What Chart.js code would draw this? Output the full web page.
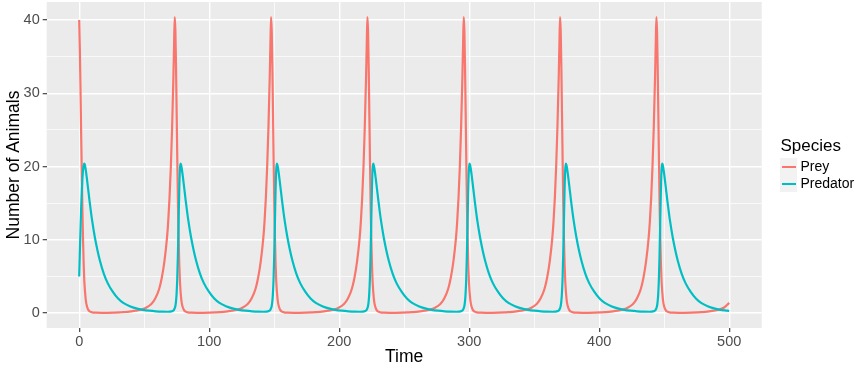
<!DOCTYPE html>
<html>
<head>
<meta charset="utf-8">
<script src="https://cdn.jsdelivr.net/npm/chart.js@4.4.0/dist/chart.umd.min.js"></script>
<style>
html,body{margin:0;padding:0;background:#ffffff;}
#wrap{position:relative;width:861px;height:372px;overflow:hidden;}
#c{position:absolute;left:0;top:0;}
.lg{position:absolute;font-family:"Liberation Sans",Arial,sans-serif;color:#000;white-space:nowrap;}
.key{position:absolute;width:17px;height:17px;background:#F2F2F2;}
.key i{position:absolute;left:1.5px;right:1.5px;top:7.5px;height:2.2px;display:block;}
</style>
</head>
<body>
<div id="wrap">
<canvas id="c" width="861" height="372"></canvas>
<div id="legendTitle" class="lg" style="left:780.5px;top:136px;font-size:17px;line-height:20px;"></div>
<div class="key" style="left:780px;top:158px;"><i id="k0"></i></div>
<div class="key" style="left:780px;top:175px;"><i id="k1"></i></div>
<div id="l0" class="lg" style="left:800.5px;top:158px;font-size:14px;line-height:17px;"></div>
<div id="l1" class="lg" style="left:800.5px;top:174.5px;font-size:14px;line-height:17px;"></div>
</div>
<script>
// ---------- data ----------
const seriesNames = ['Prey', 'Predator'];
const legendTitle = 'Species';
const xTitle = 'Time';
const yTitle = 'Number of Animals';
const xTickValues = [0, 100, 200, 300, 400, 500];
const xTickLabels = ['0', '100', '200', '300', '400', '500'];
const yTickValues = [0, 10, 20, 30, 40];
const yTickLabels = ['0', '10', '20', '30', '40'];

const preyTime = [
 0,0.5,1,1.5,2,2.5,3,3.5,4,5,6,7,8,10,13,17,22,27,31,
 33.5,38.5,43.5,47.5,51.5,55.5,58.5,61.5,63.5,65.5,67.5,68.5,69.5,70.5,71.5,72.5,73,73.5,74,74.5,75,75.5,76,76.5,77,77.5,78.5,79.5,80.5,81.5,83.5,86.5,90.5,95.5,100.5,104.5,
 107.6,112.6,117.6,121.6,125.6,129.6,132.6,135.6,137.6,139.6,141.6,142.6,143.6,144.6,145.6,146.6,147.1,147.6,148.1,148.6,149.1,149.6,150.1,150.6,151.1,151.6,152.6,153.6,154.6,155.6,157.6,160.6,164.6,169.6,174.6,178.6,
 181.7,186.7,191.7,195.7,199.7,203.7,206.7,209.7,211.7,213.7,215.7,216.7,217.7,218.7,219.7,220.7,221.2,221.7,222.2,222.7,223.2,223.7,224.2,224.7,225.2,225.7,226.7,227.7,228.7,229.7,231.7,234.7,238.7,243.7,248.7,252.7,
 255.8,260.8,265.8,269.8,273.8,277.8,280.8,283.8,285.8,287.8,289.8,290.8,291.8,292.8,293.8,294.8,295.3,295.8,296.3,296.8,297.3,297.8,298.3,298.8,299.3,299.8,300.8,301.8,302.8,303.8,305.8,308.8,312.8,317.8,322.8,326.8,
 329.9,334.9,339.9,343.9,347.9,351.9,354.9,357.9,359.9,361.9,363.9,364.9,365.9,366.9,367.9,368.9,369.4,369.9,370.4,370.9,371.4,371.9,372.4,372.9,373.4,373.9,374.9,375.9,376.9,377.9,379.9,382.9,386.9,391.9,396.9,400.9,
 404,409,414,418,422,426,429,432,434,436,438,439,440,441,442,443,443.5,444,444.5,445,445.5,446,446.5,447,447.5,448,449,450,451,452,454,457,461,466,471,475,
 478.1,483.1,488.1,492.1,496.1,500
];
const preyCount = [
 40.0,36.0,30.5,24.5,19,13.8,9.6,6.4,4.2,1.9,0.9,0.45,0.25,0.12,0.07,0.05,0.05,0.07,0.1,
 0.14,0.22,0.36,0.48,0.75,1.25,2.0,3.3,4.8,7.0,10.2,12.6,15.8,20.0,25.5,32.5,36.8,40.4,38.5,33.5,27,20.5,14.5,10,6.6,4.3,1.9,0.9,0.45,0.25,0.12,0.07,0.05,0.05,0.07,0.1,
 0.14,0.22,0.36,0.48,0.75,1.25,2.0,3.3,4.8,7.0,10.2,12.6,15.8,20.0,25.5,32.5,36.8,40.4,38.5,33.5,27,20.5,14.5,10,6.6,4.3,1.9,0.9,0.45,0.25,0.12,0.07,0.05,0.05,0.07,0.1,
 0.14,0.22,0.36,0.48,0.75,1.25,2.0,3.3,4.8,7.0,10.2,12.6,15.8,20.0,25.5,32.5,36.8,40.4,38.5,33.5,27,20.5,14.5,10,6.6,4.3,1.9,0.9,0.45,0.25,0.12,0.07,0.05,0.05,0.07,0.1,
 0.14,0.22,0.36,0.48,0.75,1.25,2.0,3.3,4.8,7.0,10.2,12.6,15.8,20.0,25.5,32.5,36.8,40.4,38.5,33.5,27,20.5,14.5,10,6.6,4.3,1.9,0.9,0.45,0.25,0.12,0.07,0.05,0.05,0.07,0.1,
 0.14,0.22,0.36,0.48,0.75,1.25,2.0,3.3,4.8,7.0,10.2,12.6,15.8,20.0,25.5,32.5,36.8,40.4,38.5,33.5,27,20.5,14.5,10,6.6,4.3,1.9,0.9,0.45,0.25,0.12,0.07,0.05,0.05,0.07,0.1,
 0.14,0.22,0.36,0.48,0.75,1.25,2.0,3.3,4.8,7.0,10.2,12.6,15.8,20.0,25.5,32.5,36.8,40.4,38.5,33.5,27,20.5,14.5,10,6.6,4.3,1.9,0.9,0.45,0.25,0.12,0.07,0.05,0.05,0.07,0.1,
 0.14,0.22,0.36,0.48,0.78,1.4
];

const predatorTime = [
 0,0.5,1,1.5,2,2.5,3,3.5,3.9,4.4,4.9,5.9,6.9,7.9,8.9,9.9,11.9,13.9,15.9,18.9,21.9,25.9,29.9,33.9,38.9,43.9,48.9,53.9,58.9,63.9,67.9,
 69.9,71.9,72.9,73.9,74.4,74.9,75.4,75.9,76.4,76.9,77.4,77.9,78.4,78.9,79.9,80.9,81.9,82.9,83.9,85.9,87.9,89.9,92.9,95.9,99.9,103.9,107.9,112.9,117.9,122.9,127.9,132.9,137.9,141.9,
 144,146,147,148,148.5,149,149.5,150,150.5,151,151.5,152,152.5,153,154,155,156,157,158,160,162,164,167,170,174,178,182,187,192,197,202,207,212,216,
 218.1,220.1,221.1,222.1,222.6,223.1,223.6,224.1,224.6,225.1,225.6,226.1,226.6,227.1,228.1,229.1,230.1,231.1,232.1,234.1,236.1,238.1,241.1,244.1,248.1,252.1,256.1,261.1,266.1,271.1,276.1,281.1,286.1,290.1,
 292.2,294.2,295.2,296.2,296.7,297.2,297.7,298.2,298.7,299.2,299.7,300.2,300.7,301.2,302.2,303.2,304.2,305.2,306.2,308.2,310.2,312.2,315.2,318.2,322.2,326.2,330.2,335.2,340.2,345.2,350.2,355.2,360.2,364.2,
 366.3,368.3,369.3,370.3,370.8,371.3,371.8,372.3,372.8,373.3,373.8,374.3,374.8,375.3,376.3,377.3,378.3,379.3,380.3,382.3,384.3,386.3,389.3,392.3,396.3,400.3,404.3,409.3,414.3,419.3,424.3,429.3,434.3,438.3,
 440.4,442.4,443.4,444.4,444.9,445.4,445.9,446.4,446.9,447.4,447.9,448.4,448.9,449.4,450.4,451.4,452.4,453.4,454.4,456.4,458.4,460.4,463.4,466.4,470.4,474.4,478.4,483.4,488.4,493.4,498.4,500
];
const predatorCount = [
 5.0,8.3,11.5,14.3,16.6,18.4,19.6,20.2,20.4,20.2,19.7,18.4,16.9,15.4,14.0,12.7,10.5,8.7,7.2,5.4,4.1,2.9,2.0,1.4,0.95,0.65,0.46,0.34,0.26,0.21,0.2,
 0.21,0.3,0.45,0.9,1.5,2.6,4.6,7.8,12,16.3,19.4,20.4,20.2,19.7,18.4,16.9,15.4,14.0,12.7,10.5,8.7,7.2,5.4,4.1,2.9,2.0,1.4,0.95,0.65,0.46,0.34,0.26,0.21,0.2,
 0.21,0.3,0.45,0.9,1.5,2.6,4.6,7.8,12,16.3,19.4,20.4,20.2,19.7,18.4,16.9,15.4,14.0,12.7,10.5,8.7,7.2,5.4,4.1,2.9,2.0,1.4,0.95,0.65,0.46,0.34,0.26,0.21,0.2,
 0.21,0.3,0.45,0.9,1.5,2.6,4.6,7.8,12,16.3,19.4,20.4,20.2,19.7,18.4,16.9,15.4,14.0,12.7,10.5,8.7,7.2,5.4,4.1,2.9,2.0,1.4,0.95,0.65,0.46,0.34,0.26,0.21,0.2,
 0.21,0.3,0.45,0.9,1.5,2.6,4.6,7.8,12,16.3,19.4,20.4,20.2,19.7,18.4,16.9,15.4,14.0,12.7,10.5,8.7,7.2,5.4,4.1,2.9,2.0,1.4,0.95,0.65,0.46,0.34,0.26,0.21,0.2,
 0.21,0.3,0.45,0.9,1.5,2.6,4.6,7.8,12,16.3,19.4,20.4,20.2,19.7,18.4,16.9,15.4,14.0,12.7,10.5,8.7,7.2,5.4,4.1,2.9,2.0,1.4,0.95,0.65,0.46,0.34,0.26,0.21,0.2,
 0.21,0.3,0.45,0.9,1.5,2.6,4.6,7.8,12,16.3,19.4,20.4,20.2,19.7,18.4,16.9,15.4,14.0,12.7,10.5,8.7,7.2,5.4,4.1,2.9,2.0,1.4,0.95,0.65,0.46,0.34,0.3
];

// ---------- styling ----------
const colors = ['#F8766D', '#00BFC4'];
const FONT = '"Liberation Sans", Arial, Helvetica, sans-serif';

function toPoints(ts, vs) { return ts.map((t, i) => ({x: t, y: vs[i]})); }

const xGrid = [];
for (let i = 0; i < xTickValues.length; i++) {
  xGrid.push(xTickValues[i]);
  if (i < xTickValues.length - 1) xGrid.push((xTickValues[i] + xTickValues[i + 1]) / 2);
}
const yGrid = [];
for (let i = 0; i < yTickValues.length; i++) {
  yGrid.push(yTickValues[i]);
  if (i < yTickValues.length - 1) yGrid.push((yTickValues[i] + yTickValues[i + 1]) / 2);
}

const panelBg = {
  id: 'panelBg',
  beforeDraw(chart) {
    const {ctx, chartArea: a} = chart;
    ctx.save();
    ctx.fillStyle = '#EBEBEB';
    ctx.fillRect(a.left, a.top, a.right - a.left, a.bottom - a.top);
    ctx.restore();
  }
};

function gridOpts(majors) {
  return {
    color: '#FFFFFF',
    lineWidth: c => majors.indexOf(c.tick && c.tick.value) >= 0 ? 1.4 : 0.7,
    drawTicks: true,
    tickLength: 4,
    tickWidth: 1.1,
    tickColor: c => majors.indexOf(c.tick && c.tick.value) >= 0 ? '#333333' : 'rgba(0,0,0,0)',
    offset: false
  };
}

new Chart(document.getElementById('c'), {
  type: 'line',
  data: {
    datasets: [
      {label: seriesNames[0], data: toPoints(preyTime, preyCount), borderColor: colors[0], order: 1},
      {label: seriesNames[1], data: toPoints(predatorTime, predatorCount), borderColor: colors[1], order: 0}
    ]
  },
  options: {
    responsive: false,
    animation: false,
    devicePixelRatio: 1,
    elements: {
      point: {radius: 0, hoverRadius: 0},
      line: {borderWidth: 2.2, cubicInterpolationMode: 'monotone', fill: false}
    },
    layout: {padding: {top: 2, right: 99.3, left: 0, bottom: 0}},
    plugins: {legend: {display: false}, tooltip: {enabled: false}},
    scales: {
      x: {
        type: 'linear',
        min: -25, max: 525,
        afterBuildTicks: s => { s.ticks = xGrid.map(v => ({value: v})); },
        afterFit: s => { s.height = 44; s.paddingLeft = 0; s.paddingRight = 0; },
        border: {display: false},
        grid: gridOpts(xTickValues),
        ticks: {
          autoSkip: false, maxRotation: 0, padding: 1,
          color: '#4D4D4D', font: {family: FONT, size: 14.5},
          callback: v => { const i = xTickValues.indexOf(v); return i >= 0 ? xTickLabels[i] : ''; }
        },
        title: {display: true, text: xTitle, color: '#000000', font: {family: FONT, size: 17.5}, padding: {top: 0, bottom: 4}}
      },
      y: {
        type: 'linear',
        min: -2.02, max: 42.45,
        afterBuildTicks: s => { s.ticks = yGrid.map(v => ({value: v})); },
        afterFit: s => { s.width = 46.7; s.paddingTop = 0; s.paddingBottom = 0; },
        border: {display: false},
        grid: gridOpts(yTickValues),
        ticks: {
          autoSkip: false, padding: 3,
          color: '#4D4D4D', font: {family: FONT, size: 14.5},
          callback: v => { const i = yTickValues.indexOf(v); return i >= 0 ? yTickLabels[i] : ''; }
        },
        title: {display: true, text: yTitle, color: '#000000', font: {family: FONT, size: 17.5}, padding: {top: 4, bottom: 0}}
      }
    }
  },
  plugins: [panelBg]
});

document.getElementById('legendTitle').textContent = legendTitle;
document.getElementById('l0').textContent = seriesNames[0];
document.getElementById('l1').textContent = seriesNames[1];
document.getElementById('k0').style.background = colors[0];
document.getElementById('k1').style.background = colors[1];
</script>
</body>
</html>
